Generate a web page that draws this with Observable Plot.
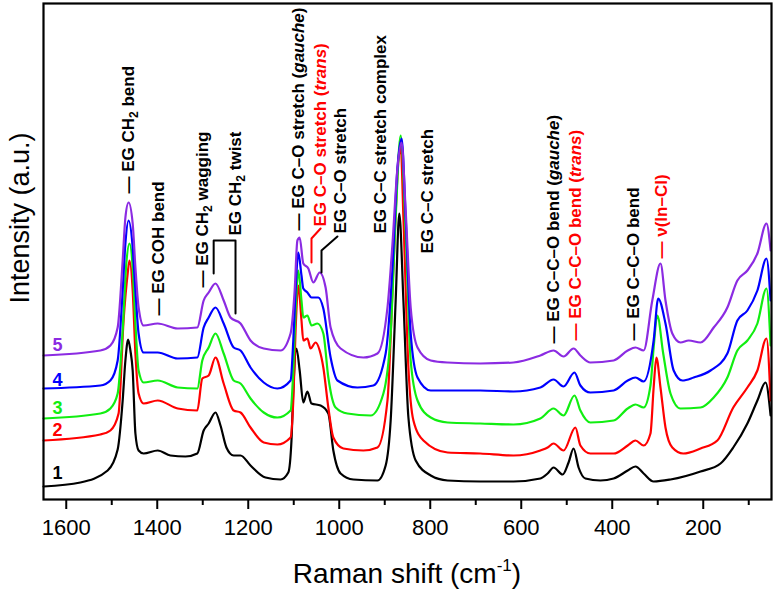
<!DOCTYPE html>
<html><head><meta charset="utf-8">
<script src="https://cdn.jsdelivr.net/npm/d3@7"></script>
<script src="https://cdn.jsdelivr.net/npm/@observablehq/plot@0.6"></script>
<style>body{margin:0;background:#fff} svg{display:block}</style>
</head><body><div id="chart"></div>
<script>
// Raman shift (cm-1) and intensity (a.u.)
const wn1 = [1650,1569,1509,1487,1476,1470,1464,1459,1454,1448,1441,1430,1399,1371,1338,1312,1298,1287,1272,1261,1248,1232,1217,1195,1162,1129,1112,1105,1101,1094,1087,1079,1070,1061,1041,1024,1013,997,969,916,898,887,876,868,859,848,832,799,762,690,617,558,542,529,509,496,485,474,459,426,397,366,349,331,309,272,206,162,134,103,81,63,52];
const int1 = [13,17,29,50,99,139,160,149,129,66,49,46,49,44,43,46,69,76,87,74,52,44,44,34,22,20,27,59,109,151,129,97,108,96,94,86,49,26,20,19,34,79,199,286,199,82,39,24,19,18,18,21,26,32,25,37,51,32,21,19,21,29,33,26,18,20,28,36,52,76,99,117,84];

const wn2 = [1650,1525,1503,1485,1474,1465,1461,1454,1448,1441,1430,1399,1355,1312,1301,1287,1272,1254,1232,1217,1195,1166,1136,1107,1101,1096,1090,1083,1079,1070,1063,1052,1043,1035,1024,1013,991,947,916,894,881,870,865,859,848,837,815,762,690,617,558,542,529,507,481,470,448,397,366,349,331,316,309,303,294,283,268,244,206,169,134,103,81,61,52];
const int2 = [59,65,69,86,179,226,239,209,146,106,96,99,91,89,121,124,142,116,89,87,72,57,55,62,99,169,214,179,159,161,151,157,149,132,92,62,51,49,52,99,232,339,354,282,132,79,59,47,46,44,49,52,56,49,72,54,46,46,54,59,54,66,112,142,112,72,52,46,51,59,92,112,129,161,99];

const wn3 = [1650,1525,1503,1487,1476,1468,1461,1454,1448,1441,1430,1399,1355,1312,1301,1287,1272,1254,1232,1217,1195,1166,1136,1107,1101,1096,1090,1083,1079,1070,1061,1048,1035,1024,1008,982,931,903,887,876,865,854,843,828,799,762,690,617,558,529,507,483,470,448,397,366,349,331,316,309,301,288,272,250,206,177,147,125,103,81,61,52];
const int3 = [81,86,91,106,169,236,256,232,176,129,117,119,112,111,139,152,166,146,119,116,101,87,82,89,129,189,229,199,182,184,174,176,166,122,92,86,84,106,166,282,364,266,139,99,82,77,76,75,81,91,84,104,89,77,79,91,95,92,114,152,184,146,106,91,92,102,122,149,159,176,211,154];

const wn4 = [1650,1525,1503,1487,1476,1470,1463,1454,1448,1441,1430,1399,1355,1312,1298,1287,1272,1254,1232,1217,1195,1166,1136,1107,1101,1096,1090,1083,1079,1070,1061,1046,1035,1019,1004,960,925,898,883,872,863,854,843,828,799,762,690,617,558,529,507,483,470,448,397,366,349,331,309,299,283,265,246,221,184,147,125,103,81,61,52];
const int4 = [111,114,119,139,209,256,279,252,209,166,147,147,141,142,172,182,192,176,152,149,132,117,111,119,159,209,247,224,211,207,202,202,191,142,119,112,114,146,232,332,361,282,166,122,109,109,109,108,112,120,113,127,114,107,109,119,122,118,159,201,176,129,119,122,129,146,179,189,209,241,199];

const wn5 = [1650,1525,1503,1487,1476,1470,1463,1454,1448,1441,1430,1399,1355,1312,1298,1287,1272,1254,1239,1217,1195,1166,1129,1107,1098,1092,1087,1079,1068,1057,1043,1030,1019,997,947,916,894,883,872,863,854,843,828,799,762,690,617,558,529,507,485,470,448,397,366,349,331,312,294,283,268,250,232,206,177,147,125,103,81,61,52];
const int5 = [144,149,154,172,239,282,297,276,232,192,174,176,171,172,199,207,216,199,182,176,159,151,149,166,209,259,262,236,231,217,227,212,172,151,142,146,192,256,332,357,289,192,152,139,137,136,137,144,149,143,151,144,137,139,149,152,149,199,236,199,166,157,159,157,172,192,219,229,246,276,249];

const seriesNames = ["1","2","3","4","5"];
const seriesColors = ["#000000","#ff0000","#11ee11","#0000ff","#8b2be2"];
const seriesWn = [wn1, wn2, wn3, wn4, wn5];
const seriesInt = [int1, int2, int3, int4, int5];
// series number labels
const numWn = [1619, 1619, 1619, 1619, 1619];
const numInt = [26, 69, 91, 119, 154];

// peak annotations (_2 = subscript, *..* = italic)
const labelText = ["— EG CH_2 bend", "— EG COH bend", "— EG CH_2 wagging", "EG CH_2 twist",
  "— EG C–O stretch (*gauche*)", "EG C–O stretch (*trans*)", "EG C–O stretch",
  "EG C–C stretch complex", "EG C–C stretch", "— EG C–C–O bend (*gauche*)",
  "— EG C–C–O bend (*trans*)", "— EG C–C–O bend", "— ν(In–Cl)"];
const labelWn = [1463, 1397, 1300, 1228, 1090, 1041, 997, 909, 806, 529, 481, 353, 292];
const labelInt = [306, 184, 212, 264, 269, 273, 266, 266, 246, 156, 159, 159, 241];
const labelColor = ["#000","#000","#000","#000","#000","#ff0000","#000","#000","#000","#000","#ff0000","#000","#ff0000"];

// leader lines
const leaderId = ["twist","twist","twist","twist","trans","trans","trans","co","co","co"];
const leaderWn = [1276, 1276, 1228, 1228, 1041, 1061, 1061, 1004, 1039, 1039];
const leaderInt = [226, 259, 259, 186, 271, 261, 237, 263, 249, 227];
const leaderColor = {twist: "#000", trans: "#ff0000", co: "#000"};

const majorTicks = [200, 400, 600, 800, 1000, 1200, 1400, 1600];
const minorTicks = [100, 300, 500, 700, 900, 1100, 1300, 1500];

const rows = seriesWn.flatMap((wn, i) => wn.map((w, j) => ({s: seriesNames[i], c: seriesColors[i], wn: w, v: seriesInt[i][j]})));
const nums = seriesNames.map((n, i) => ({t: n, c: seriesColors[i], wn: numWn[i], v: numInt[i]}));
const labels = labelText.map((t, i) => ({t, c: labelColor[i], wn: labelWn[i], v: labelInt[i]}));
const leaders = leaderId.map((id, i) => ({id, c: leaderColor[id], wn: leaderWn[i], v: leaderInt[i]}));

const plot = Plot.plot({
  width: 774, height: 591,
  marginLeft: 43, marginRight: 3, marginTop: 3, marginBottom: 92,
  x: {domain: [1650, 50], axis: null},
  y: {domain: [0, 496], axis: null},
  color: {type: "identity"},
  style: {fontFamily: "'Liberation Sans', Arial, sans-serif", background: "white", color: "black"},
  marks: [
    Plot.line(rows, {x: "wn", y: "v", z: "s", stroke: "c", strokeWidth: 2.2, curve: "monotone-x"}),
    Plot.line(leaders, {x: "wn", y: "v", z: "id", stroke: "c", strokeWidth: 2}),
    Plot.text(labels, {x: "wn", y: "v", text: "t", fill: "c", rotate: -90, textAnchor: "start",
      fontSize: 17, fontWeight: "bold"}),
    Plot.text(nums, {x: "wn", y: "v", text: "t", fill: "c", fontSize: 18, fontWeight: "bold"}),
    Plot.axisX({ticks: minorTicks, tickSize: 6, strokeWidth: 2, tickFormat: () => "", label: null}),
    Plot.axisX({ticks: majorTicks, tickSize: 10, tickPadding: 10, strokeWidth: 2, fontSize: 22,
      tickFormat: d => String(d), label: null}),
    Plot.frame({stroke: "black", strokeWidth: 2.2})
  ]
});
document.getElementById("chart").appendChild(plot);

// rich text: subscripts and italics in peak labels
d3.select(plot).selectAll("text").each(function() {
  const raw = this.textContent;
  if (!/_2|\*/.test(raw)) return;
  const el = d3.select(this);
  el.text(null);
  let pendingDy = 0;
  raw.split(/(_2|\*[^*]+\*)/).forEach(tok => {
    if (!tok) return;
    let ts;
    if (tok === "_2") {
      ts = el.append("tspan").attr("font-size", 12).attr("dy", 4).text("2");
      pendingDy = -4;
      return;
    } else if (tok.startsWith("*")) {
      ts = el.append("tspan").attr("font-style", "italic").text(tok.slice(1, -1));
    } else {
      ts = el.append("tspan").text(tok);
    }
    if (pendingDy) { ts.attr("dy", pendingDy); pendingDy = 0; }
  });
});

// axis titles
const svg = d3.select(plot);
const xt = svg.append("text").attr("x", 407).attr("y", 583).attr("text-anchor", "middle")
  .attr("font-size", 28).attr("fill", "black");
xt.append("tspan").text("Raman shift (cm");
xt.append("tspan").attr("font-size", 17).attr("dy", -12).text("-1");
xt.append("tspan").attr("dy", 12).text(")");
svg.append("text").attr("transform", "translate(29,218) rotate(-90)").attr("text-anchor", "middle")
  .attr("font-size", 27).attr("fill", "black").text("Intensity (a.u.)");
</script>
</body></html>
